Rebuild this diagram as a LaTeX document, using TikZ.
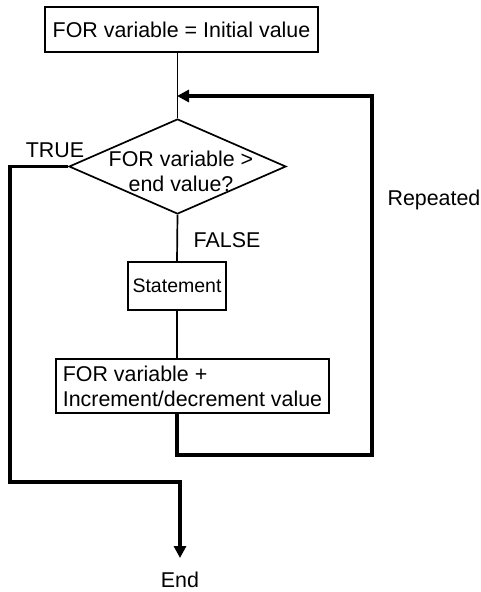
\documentclass[tikz,border=0pt]{standalone}
\usepackage{fontspec}
\setmainfont{Liberation Sans}
\usetikzlibrary{shapes.geometric,arrows.meta}
\begin{document}
\begin{tikzpicture}[x=1pt,y=-1pt,
  box/.style={draw, line width=1.7pt, inner sep=0pt},
  thinline/.style={line width=1.7pt},
  thickline/.style={line width=3.2pt},
  tip/.style={-{Triangle[length=12pt,width=12pt]}},
  lbl/.style={inner sep=0pt},
  every node/.style={font=\fontsize{21.4}{25}\selectfont}]
\useasboundingbox (0,0) rectangle (481,592);
\node[box, minimum width=273, minimum height=45] (top) at (181.5,29.5) {FOR variable = Initial value};
\node[draw, line width=1.7pt, diamond, minimum width=217, minimum height=95, inner sep=0pt] (dia) at (177.5,166.5) {};
\node[lbl, align=center] (diatext) at (181,171) {FOR variable >\\end value?};
\node[box, minimum width=98, minimum height=48, font=\fontsize{19.5}{22}\selectfont] (stmt) at (177,286) {Statement};
\node[box, minimum width=273, minimum height=54, align=left, anchor=north west, inner xsep=7pt] (incr) at (55,358) {FOR variable +\\Increment/decrement value};
\node[lbl] (true) at (55,150) {TRUE};
\node[lbl] (false) at (227,240) {FALSE};
\node[lbl] (rep) at (434,200) {Repeated};
\node[lbl] (end) at (180,580) {End};
\coordinate (join) at (177,96);
\coordinate (rr) at (372,455);
\coordinate (tl) at (10,482);
\coordinate (endtip) at (180,558);
\draw[thinline] (dia.north |- top.south) -- (dia.north);
\draw[thinline] (dia.south) -- (stmt.north);
\draw[thinline] (stmt.south) -- (incr.north -| stmt.south);
\draw[thickline, tip] (incr.south -| stmt.south) |- (rr) |- (join);
\draw[thickline, tip] (dia.west) -| (tl) -| (endtip);
\end{tikzpicture}
\end{document}
